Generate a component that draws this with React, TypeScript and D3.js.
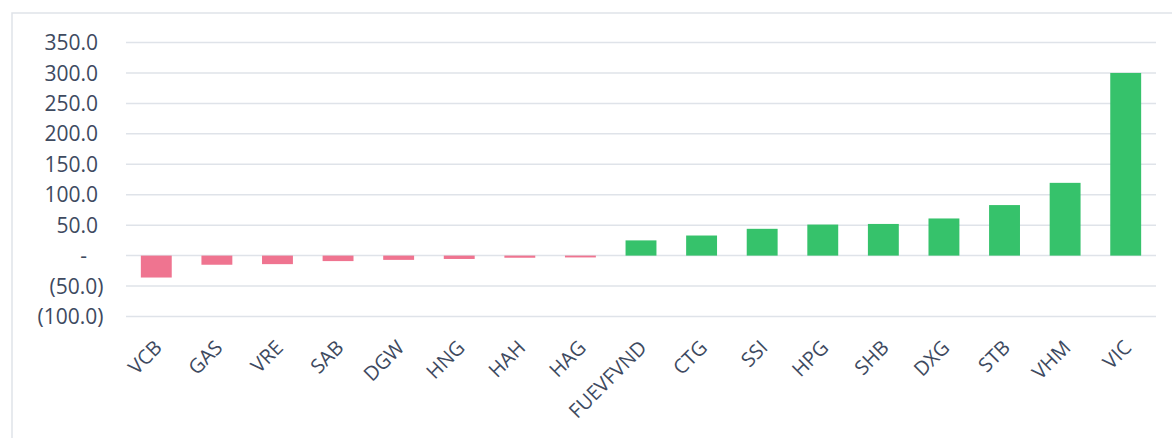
import React from 'react'
import * as d3 from 'd3'

const tickers = ['VCB', 'GAS', 'VRE', 'SAB', 'DGW', 'HNG', 'HAH', 'HAG', 'FUEVFVND', 'CTG', 'SSI', 'HPG', 'SHB', 'DXG', 'STB', 'VHM', 'VIC']
const netValues = [-36, -15, -14, -9, -7, -5.5, -3.5, -3, 25, 33, 44, 51, 52, 61, 83, 119.5, 300]
const yTicks = [350, 300, 250, 200, 150, 100, 50, 0, -50, -100]

const W = 1172
const H = 438
const textColor = '#3E4A5F'
const gridColor = '#DFE3E9'
const font = '"Open Sans", sans-serif'

const fmt = (v: number) => {
  if (v === 0) return '-'
  const s = d3.format(',.1f')(Math.abs(v))
  return v < 0 ? `(${s})` : s
}

const App = () => {
  const margin = { top: 42.5, left: 126, right: 16 }

  const x = d3
    .scaleBand()
    .domain(tickers)
    .range([margin.left, W - margin.right])
    .paddingInner(0.49)
    .paddingOuter(0.245)

  const y = d3.scaleLinear().domain([-100, 350]).range([316.5, margin.top])

  const grid = yTicks.map((t) => (
    <line key={t} x1={margin.left} x2={W - margin.right} y1={y(t)} y2={y(t)} stroke={gridColor} strokeWidth={1.5} />
  ))

  const yLabels = yTicks.map((t) => (
    <text
      key={t}
      x={t > 0 ? 98 : t < 0 ? 103.5 : 87}
      y={y(t)}
      dy="0.36em"
      textAnchor="end"
      fill={textColor}
      fontSize={21}
      fontFamily={font}
    >
      {fmt(t)}
    </text>
  ))

  const bars = tickers.map((tk, i) => {
    const v = netValues[i]
    return (
      <rect
        key={tk}
        x={x(tk)}
        y={y(Math.max(0, v))}
        width={x.bandwidth()}
        height={Math.abs(y(v) - y(0))}
        fill={v < 0 ? '#EF7490' : '#36C26B'}
      />
    )
  })

  const xLabels = tickers.map((tk) => {
    const cx = (x(tk) as number) + x.bandwidth() / 2 - 3
    return (
      <text
        key={tk}
        transform={`translate(${cx},${339}) rotate(-45)`}
        textAnchor="end"
        dy="0.7em"
        fill={textColor}
        fontSize={20}
        fontFamily={font}
      >
        {tk}
      </text>
    )
  })

  return (
    <svg width={W} height={H} style={{ position: 'absolute', left: 0, top: 0, background: '#fff' }}>
      <rect x={12} y={13} width={W - 11} height={H} fill="none" stroke={gridColor} strokeWidth={1.5} />
      {grid}
      {yLabels}
      {bars}
      {xLabels}
    </svg>
  )
}

export default App
